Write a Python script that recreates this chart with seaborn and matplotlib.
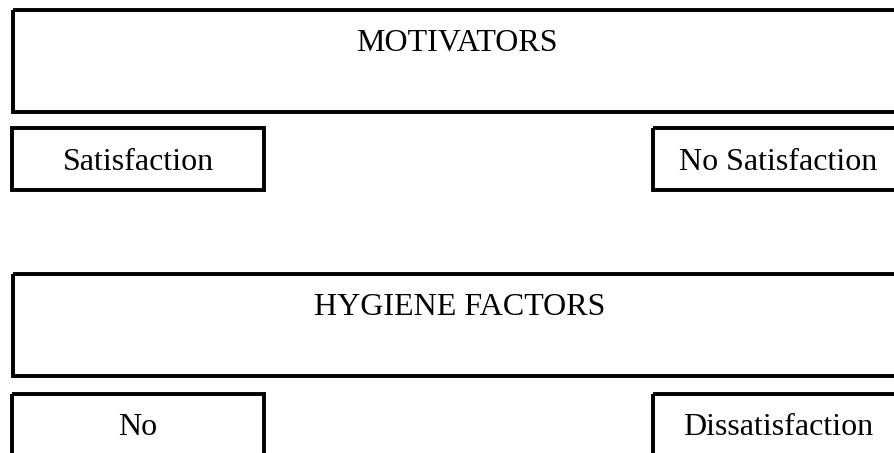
import matplotlib
matplotlib.use("Agg")
import matplotlib.pyplot as plt
import matplotlib.patches as patches
import seaborn as sns

# Diagram content: Herzberg two-factor boxes
headers = ["MOTIVATORS", "HYGIENE FACTORS"]
left_labels = ["Satisfaction", "No"]
right_labels = ["No Satisfaction", "Dissatisfaction"]

sns.set_style("white")
plt.rcParams["font.family"] = ["Liberation Serif", "DejaVu Serif"]

fig = plt.figure(figsize=(8.95, 4.53), dpi=100)
ax = fig.add_axes([0, 0, 1, 1])
ax.set_xlim(0, 895)
ax.set_ylim(453, 0)
ax.axis("off")

lw = 2.8
fs = 23

# row layout: (header top, header bottom, header text baseline, small box top, small text baseline)
rows = [(10, 112, 51, 128, 170), (274, 376, 315, 394, 435)]
small_bottom = [190, 470]
header_cx = [457, 460]

for i, (htop, hbot, hbase, stop, sbase) in enumerate(rows):
    # wide header box running off the right edge
    ax.add_patch(patches.Rectangle((13, htop), 900, hbot - htop, fill=False,
                                   edgecolor="black", linewidth=lw, joinstyle="miter"))
    ax.text(header_cx[i], hbase, headers[i], ha="center", va="baseline",
            fontsize=fs, color="black")

    sb = small_bottom[i]
    # left small box
    ax.add_patch(patches.Rectangle((12, stop), 252, sb - stop, fill=False,
                                   edgecolor="black", linewidth=lw, joinstyle="miter"))
    ax.text(138, sbase, left_labels[i], ha="center", va="baseline",
            fontsize=fs, color="black")

    # right small box, cut at the right edge
    ax.add_patch(patches.Rectangle((653, stop), 300, sb - stop, fill=False,
                                   edgecolor="black", linewidth=lw, joinstyle="miter"))
    ax.text(778, sbase, right_labels[i], ha="center", va="baseline",
            fontsize=fs, color="black")

fig.savefig("out.png", dpi=100, facecolor="white")
